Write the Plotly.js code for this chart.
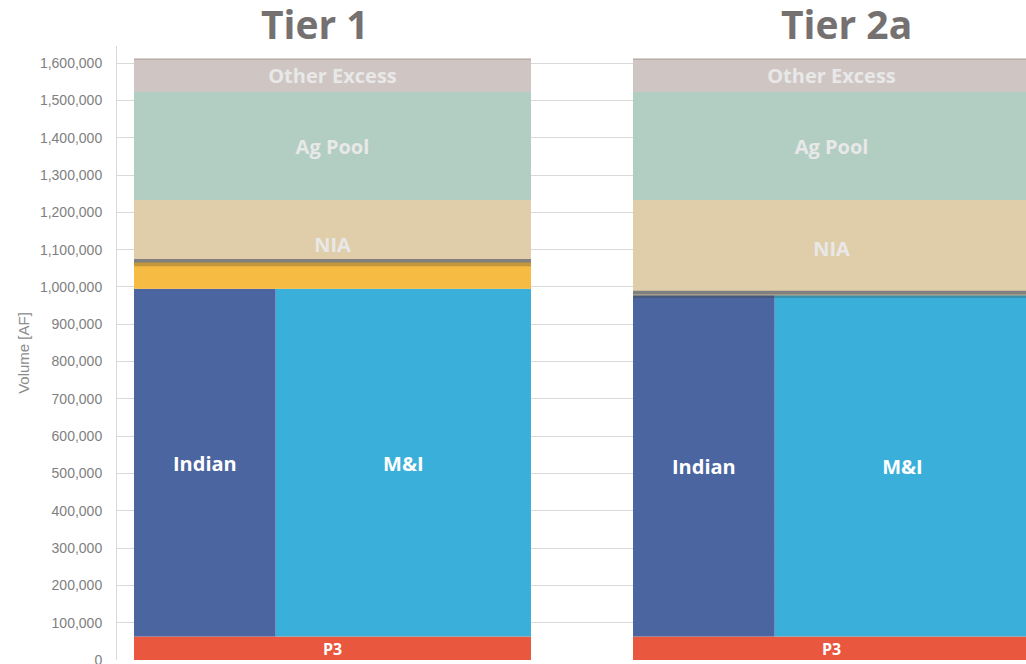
<!DOCTYPE html>
<html><head><meta charset="utf-8">
<script src="https://cdn.plot.ly/plotly-3.0.1.min.js"></script>
<style>html,body{margin:0;padding:0;background:#fff}#chart{width:1026px;height:664px}</style>
</head><body><div id="chart"></div>
<script>
// ---- data (acre-feet) ----
const tiers = ["Tier 1", "Tier 2a"];
const p3 = [63000, 63000];
const indianMI = [932000, 915000];      // Indian & M&I share the same height
const indianShare = [0.357, 0.357];     // fraction of bar width given to Indian
const additional = [75000, 0];          // yellow band above M&I (Tier 1 only)
const nia = [238000, 255000];
const agPool = [290000, 290000];
const otherExcess = [88000, 88000];
const capLevel = [1070000, 985000];      // grey limit line

// ---- geometry helpers ----
const GAP = 0.257;                       // gap between tier bars, in bar widths
const Y_MAX = 1646000;
const PLOT_H = 614;                      // plot height in px
const pxToAF = px => px * Y_MAX / PLOT_H;
const TXT_NUDGE = pxToAF(3);             // nudge labels down so caps look centred
const left = tiers.map((t, i) => i * (1 + GAP));
const center = left.map(l => l + 0.5);
const add = (a, b) => a.map((v, i) => v + b[i]);

const baseInd = p3.slice();
const baseNIA = add(p3, indianMI);
const baseAg = add(baseNIA, nia);
const baseOther = add(baseAg, agPool);
const topOther = add(baseOther, otherExcess);

const font = "'Open Sans', 'Noto Sans', sans-serif";
const traces = [];
function bar(name, x, w, base, y, color) {
  traces.push({type: 'bar', name, x, width: w, base, y, marker: {color, line: {width: 0}},
    hoverinfo: 'skip', showlegend: false});
}
function label(text, x, y, size, color) {
  traces.push({type: 'scatter', mode: 'text', x, y: y.map(v => v - TXT_NUDGE), text: x.map(() => text),
    textfont: {family: font, size, color, weight: 'bold'}, textposition: 'middle center',
    hoverinfo: 'skip', showlegend: false, cliponaxis: false});
}

bar('P3', center, [1, 1], [0, 0], p3, '#E9573F');
bar('Indian', left.map((l, i) => l + indianShare[i] / 2), indianShare, baseInd, indianMI, '#4A65A0');
bar('M&I', left.map((l, i) => l + indianShare[i] + (1 - indianShare[i]) / 2),
    indianShare.map(s => 1 - s), baseInd, indianMI, '#3AAFDA');
bar('NIA', center, [1, 1], baseNIA, nia, '#E0CEAA');
bar('Additional', center, [1, 1], baseNIA, additional, '#F6BB42');
bar('Ag Pool', center, [1, 1], baseAg, agPool, '#B2CEC3');
bar('Other Excess', center, [1, 1], baseOther, otherExcess, '#CFC6C3');

// top edge of Other Excess
tiers.forEach((t, i) => {
  traces.push({type: 'scatter', mode: 'lines', x: [left[i], left[i] + 1], y: [topOther[i], topOther[i]],
    line: {color: '#A99A94', width: 1}, hoverinfo: 'skip', showlegend: false});
});
// grey limit lines with soft shadow
tiers.forEach((t, i) => {
  traces.push({type: 'scatter', mode: 'lines', x: [left[i], left[i] + 1], y: [capLevel[i] - pxToAF(2.5), capLevel[i] - pxToAF(2.5)],
    line: {color: 'rgba(70,60,40,0.28)', width: 6}, hoverinfo: 'skip', showlegend: false});
  traces.push({type: 'scatter', mode: 'lines', x: [left[i], left[i] + 1], y: [capLevel[i], capLevel[i]],
    line: {color: '#808080', width: 3.5}, hoverinfo: 'skip', showlegend: false});
});

label('P3', center, p3.map(v => v / 2), 16, '#FFFFFF');
label('Indian', left.map((l, i) => l + indianShare[i] / 2), baseInd.map((b, i) => b + indianMI[i] / 2), 20, '#FFFFFF');
label('M&I', left.map((l, i) => l + indianShare[i] + (1 - indianShare[i]) / 2), baseInd.map((b, i) => b + indianMI[i] / 2), 20, '#FFFFFF');
label('NIA', center, baseNIA.map((b, i) => b + nia[i] / 2), 20, '#E8E8E8');
label('Ag Pool', center, baseAg.map((b, i) => b + agPool[i] / 2), 20, '#E8E8E8');
label('Other Excess', center, baseOther.map((b, i) => b + otherExcess[i] / 2), 20, '#E8E8E8');

const layout = {
  width: 1026, height: 664,
  margin: {l: 117, r: 0, t: 46, b: 4},
  paper_bgcolor: '#FFFFFF', plot_bgcolor: '#FFFFFF',
  barmode: 'overlay',
  showlegend: false,
  xaxis: {range: [-0.0428, 2.2469], visible: false, fixedrange: true},
  yaxis: {
    range: [0, Y_MAX], dtick: 100000, tick0: 0, tickformat: ',',
    gridcolor: '#D9D9D9', gridwidth: 1, showline: true, linecolor: '#D9D9D9', linewidth: 1,
    zeroline: false, ticks: '', ticklabelstandoff: 11, ticklabeloverflow: 'allow',
    tickfont: {family: "'Liberation Sans', Arial, sans-serif", size: 14, color: '#808080'},
    title: {text: 'Volume [AF]', font: {family: "'Liberation Sans', Arial, sans-serif", size: 15, color: '#8C8C8C'}, standoff: 6},
    fixedrange: true
  },
  annotations: tiers.map((t, i) => ({
    text: '<b>' + t + '</b>', xref: 'paper', yref: 'paper', x: [0.2173, 0.8027][i], y: 1,
    xanchor: 'center', yanchor: 'middle', yshift: 23, showarrow: false,
    font: {family: font, size: 39, color: '#757171'}
  }))
};

Plotly.newPlot('chart', traces, layout, {displayModeBar: false, staticPlot: true});
</script>
</body></html>
